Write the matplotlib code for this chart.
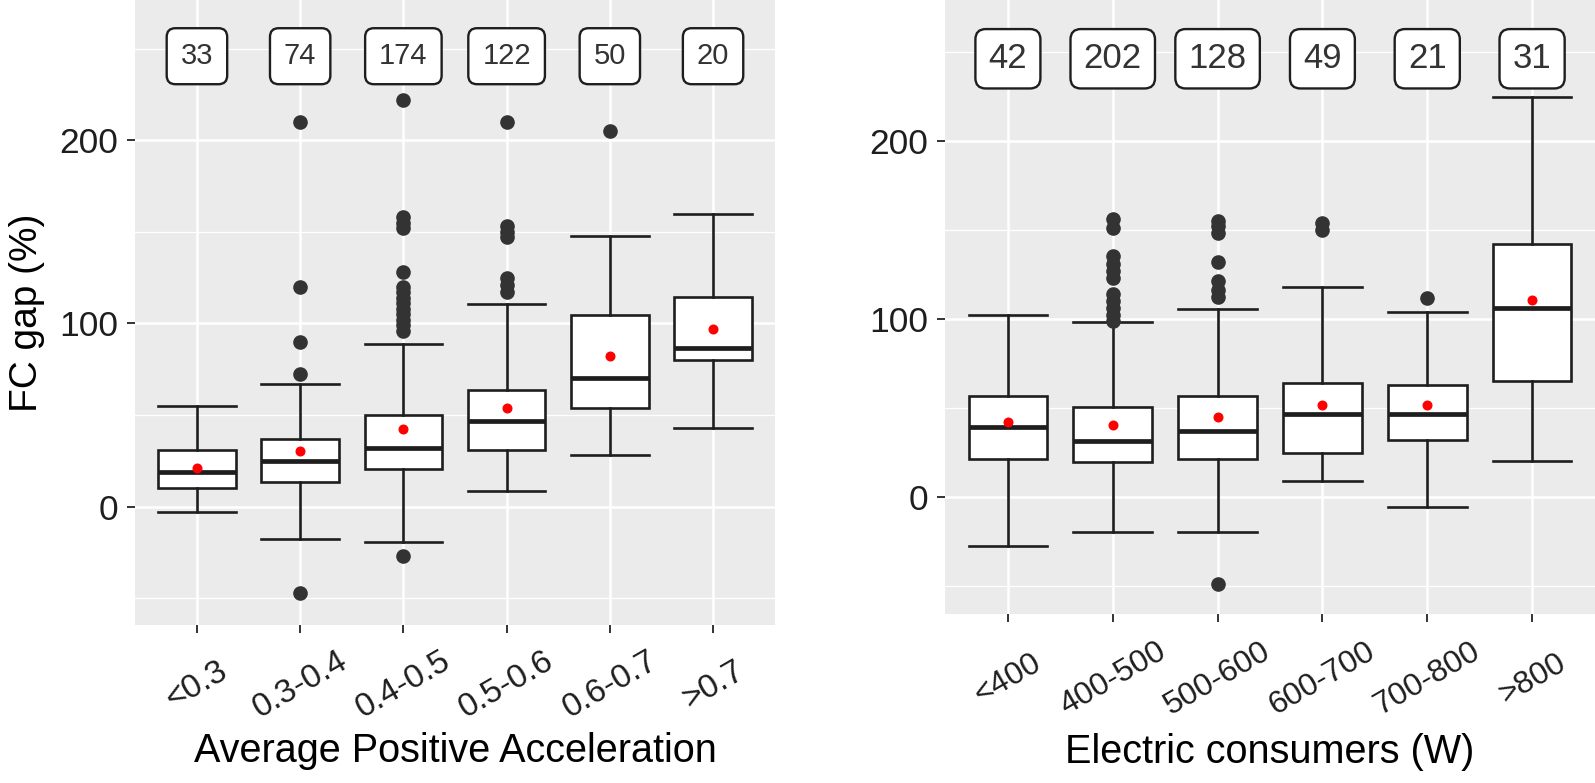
import matplotlib
matplotlib.use("Agg")
import matplotlib.pyplot as plt
from matplotlib.ticker import FixedLocator

plt.rcParams['font.family'] = ['Liberation Sans', 'DejaVu Sans']

# ---- panel 1: average positive acceleration
acc_labels = ['<0.3', '0.3-0.4', '0.4-0.5', '0.5-0.6', '0.6-0.7', '>0.7']
acc_n = [33, 74, 174, 122, 50, 20]
acc_whislo = [-3.0, -17.6, -19.3, 8.6, 28.3, 42.9]
acc_q1 = [10.1, 13.3, 20.4, 31.1, 53.6, 80.0]
acc_med = [18.7, 24.7, 31.8, 46.6, 70.2, 86.7]
acc_q3 = [31.1, 36.9, 50.2, 63.5, 104.9, 114.2]
acc_whishi = [54.7, 66.7, 88.6, 110.7, 147.9, 159.7]
acc_mean = [21.2, 30.5, 42.3, 54.1, 82.0, 96.8]
acc_out = [[],
           [210, 120, 90, 72.5, -47.4],
           [222, 158, 155, 152, 128, 120, 117, 114, 111, 108, 105, 102, 99, 96, -27],
           [210, 153, 150, 147, 125, 121, 117],
           [205.4],
           []]

# ---- panel 2: electric consumers
ec_labels = ['<400', '400-500', '500-600', '600-700', '700-800', '>800']
ec_n = [42, 202, 128, 49, 21, 31]
ec_whislo = [-27.7, -19.9, -19.9, 9.1, -5.8, 19.9]
ec_q1 = [21.0, 19.7, 21.0, 24.8, 32.1, 65.3]
ec_med = [39.2, 31.5, 37.2, 46.5, 46.5, 106.3]
ec_q3 = [56.9, 50.5, 56.9, 64.2, 62.7, 142.2]
ec_whishi = [102.3, 97.9, 105.6, 118.0, 103.9, 224.6]
ec_mean = [41.9, 40.3, 45.0, 51.4, 51.4, 110.7]
ec_out = [[],
          [156, 151, 135, 131, 127, 123, 114, 110, 106, 102, 99],
          [155, 152, 148, 131.8, 121, 116, 112, -48.7],
          [154, 150],
          [111.4],
          []]

LABEL_Y = 246
INK = '#1e1e1e'


def dibujar_panel(ax, labels, n, wlo, q1, med, q3, whi, mean, out,
                  ylim, xtitle, lab_size, lab_pad, tick_size, xpad, ytitle_y):
    stats = []
    for i in range(len(labels)):
        stats.append(dict(whislo=wlo[i], q1=q1[i], med=med[i], q3=q3[i],
                          whishi=whi[i], fliers=out[i]))
    pos = list(range(1, len(labels) + 1))
    ax.set_facecolor('#EBEBEB')
    ax.bxp(stats, positions=pos, widths=0.75, patch_artist=True, showfliers=True,
           boxprops=dict(facecolor='white', edgecolor=INK, linewidth=1.9),
           medianprops=dict(color=INK, linewidth=3.4),
           whiskerprops=dict(color=INK, linewidth=1.9),
           capprops=dict(color=INK, linewidth=1.9),
           capwidths=0.75,
           flierprops=dict(marker='o', markerfacecolor='#333333',
                           markeredgecolor='#333333', markersize=9.5),
           zorder=3)
    ax.plot(pos, mean, 'o', color='red', markersize=6.2, zorder=5)

    for p, c in zip(pos, n):
        ax.text(p, LABEL_Y, str(c), ha='center', va='center', fontsize=lab_size,
                color='#333333', zorder=6,
                bbox=dict(boxstyle='round,pad=%.2f,rounding_size=0.3' % lab_pad,
                          fc='white', ec=INK, lw=1.7))

    ax.set_xlim(0.4, len(labels) + 0.6)
    ax.set_ylim(*ylim)
    ax.set_xticks(pos)
    ax.set_xticklabels(labels, rotation=30, ha='center', va='center')
    ax.set_yticks([0, 100, 200])
    ax.yaxis.set_minor_locator(FixedLocator([-50, 50, 150, 250]))
    ax.grid(which='major', color='white', linewidth=1.8, zorder=0)
    ax.grid(which='minor', axis='y', color='white', linewidth=0.9, zorder=0)
    ax.set_axisbelow(True)
    for s in ax.spines.values():
        s.set_visible(False)
    ax.tick_params(axis='x', length=5.8, width=1.4, color='#333333',
                   labelsize=tick_size, labelcolor='#1e1e1e', pad=xpad)
    ax.tick_params(axis='y', length=5.8, width=1.4, color='#333333',
                   labelsize=25.5, labelcolor='#1e1e1e', pad=6)
    ax.tick_params(which='minor', length=0)
    ax.set_xlabel(xtitle, fontsize=28.5)
    ax.xaxis.set_label_coords(0.5, ytitle_y)


fig = plt.figure(figsize=(15.95, 7.83), dpi=100)
ax1 = fig.add_axes([135 / 1595, 1 - 625 / 783, 640 / 1595, 625 / 783])
ax2 = fig.add_axes([945 / 1595, 1 - 614 / 783, 650 / 1595, 614 / 783])

dibujar_panel(ax1, acc_labels, acc_n, acc_whislo, acc_q1, acc_med, acc_q3,
              acc_whishi, acc_mean, acc_out, (-64.7, 276.7),
              'Average Positive Acceleration', 21, 0.48, 24, 37.5, -0.172)
dibujar_panel(ax2, ec_labels, ec_n, ec_whislo, ec_q1, ec_med, ec_q3,
              ec_whishi, ec_mean, ec_out, (-65.8, 279.0),
              'Electric consumers (W)', 25, 0.38, 23, 41.0, -0.193)

ax1.set_ylabel('FC gap (%)', fontsize=28)
ax1.yaxis.set_label_coords(-0.14, 0.5)

fig.savefig('out.png', dpi=100)
